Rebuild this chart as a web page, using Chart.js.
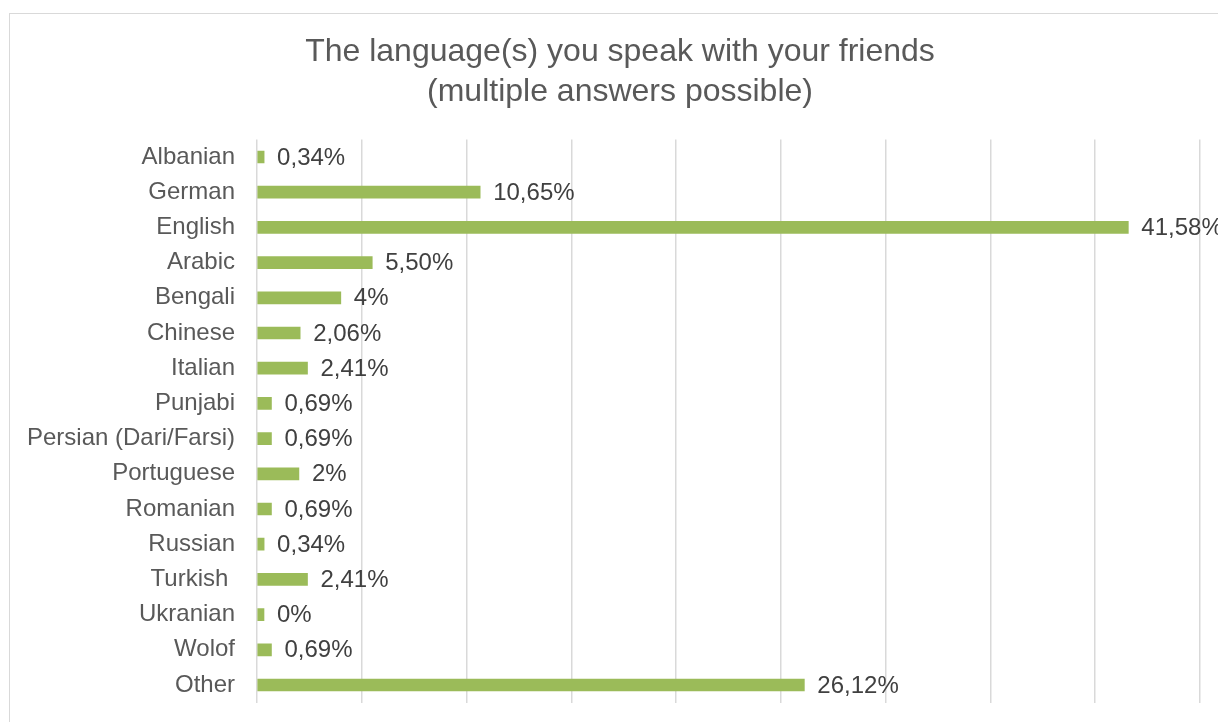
<!DOCTYPE html>
<html>
<head>
<meta charset="utf-8">
<script src="https://cdn.jsdelivr.net/npm/chart.js@4/dist/chart.umd.min.js"></script>
<style>
  html, body { margin: 0; padding: 0; background: #fff; overflow: hidden; }
  #moldura {
    position: absolute; left: 9px; top: 13px; width: 1230px; height: 740px;
    border-left: 1px solid #d9d9d9; border-top: 1px solid #d9d9d9;
  }
  #grafico { display: block; }
</style>
</head>
<body>
<div id="moldura"><canvas id="grafico" width="1220" height="725"></canvas></div>
<script>
const titulo = ["The language(s) you speak with your friends", "(multiple answers possible)"];

const idiomas = [
  "Albanian", "German", "English", "Arabic", "Bengali", "Chinese", "Italian",
  "Punjabi", "Persian (Dari/Farsi)", "Portuguese", "Romanian", "Russian",
  "Turkish ", "Ukranian", "Wolof", "Other",
];

// percentuais (%)
const valores = [
  0.34, 10.65, 41.58, 5.50, 4, 2.06, 2.41,
  0.69, 0.69, 2, 0.69, 0.34,
  2.41, 0, 0.69, 26.12,
];

const fonte = "'Liberation Sans', Arial, sans-serif";

function formatar(v) {
  if (Number.isInteger(v)) return v + "%";
  return v.toFixed(2).replace(".", ",") + "%";
}

// escreve o valor na ponta de cada barra
const rotulosValor = {
  id: "rotulosValor",
  afterDatasetsDraw(chart) {
    const ctx = chart.ctx;
    const meta = chart.getDatasetMeta(0);
    ctx.save();
    ctx.font = "24px " + fonte;
    ctx.fillStyle = "#404040";
    ctx.textAlign = "left";
    ctx.textBaseline = "middle";
    meta.data.forEach((barra, i) => {
      ctx.fillText(formatar(valores[i]), barra.x + 13, barra.y + 1);
    });
    ctx.restore();
  },
};

new Chart(document.getElementById("grafico"), {
  type: "bar",
  data: {
    labels: idiomas,
    datasets: [
      {
        data: valores,
        backgroundColor: "#9BBB59",
        barThickness: 12,
        minBarLength: 7,
      },
    ],
  },
  options: {
    indexAxis: "y",
    responsive: false,
    animation: false,
    layout: { padding: 0 },
    plugins: {
      legend: { display: false },
      tooltip: { enabled: false },
      title: {
        display: true,
        text: titulo,
        color: "#595959",
        font: { family: fonte, size: 32, weight: "normal", lineHeight: 1.25 },
        padding: { top: 18, bottom: 27.4 },
      },
    },
    scales: {
      x: {
        min: 0,
        max: 45,
        ticks: { stepSize: 5, display: false },
        grid: { color: "#d9d9d9", lineWidth: 1.5, drawTicks: false },
        border: { display: false },
        afterFit(scale) { scale.height = 0; },
      },
      y: {
        grid: { display: false, drawTicks: false },
        border: { display: false },
        ticks: {
          color: "#595959",
          font: { family: fonte, size: 24 },
          padding: 22,
          autoSkip: false,
        },
        afterFit(scale) { scale.width = 247; },
      },
      // eixo vazio à direita, só para reservar a margem
      margem: {
        type: "category",
        position: "right",
        grid: { display: false, drawTicks: false },
        border: { display: false },
        ticks: { display: false },
        afterFit(scale) { scale.width = 30; },
      },
    },
  },
  plugins: [rotulosValor],
});
</script>
</body>
</html>
